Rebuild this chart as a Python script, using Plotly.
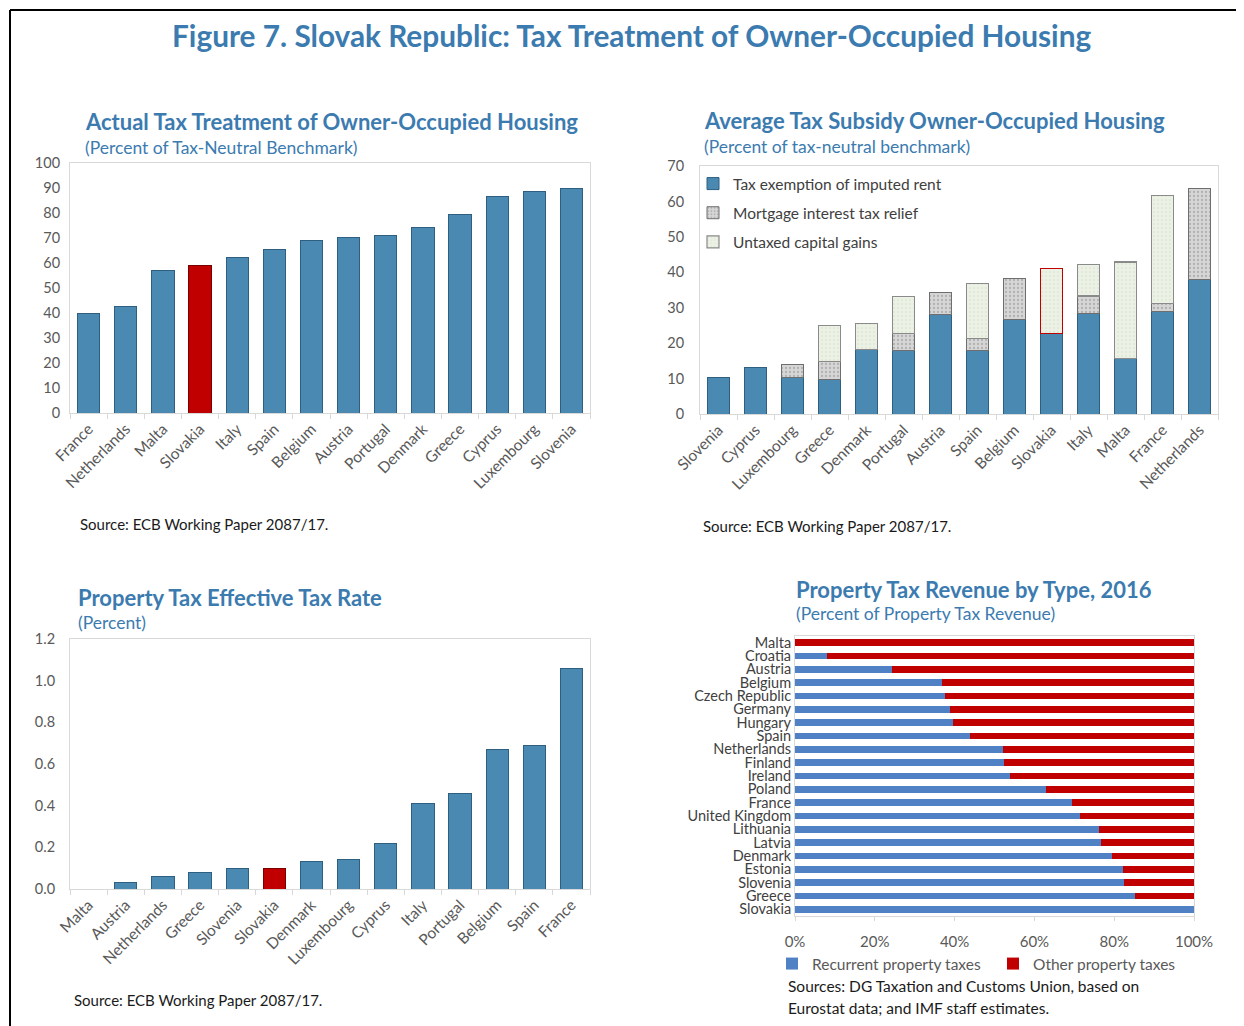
import plotly.graph_objects as go

# ---------------- DATA ----------------
c1_countries = ["France", "Netherlands", "Malta", "Slovakia", "Italy", "Spain", "Belgium",
                "Austria", "Portugal", "Denmark", "Greece", "Cyprus", "Luxembourg", "Slovenia"]
c1_values = [40.0, 42.5, 57.0, 59.0, 62.1, 65.4, 69.0, 70.1, 71.2, 74.3, 79.4, 86.8, 88.6, 89.7]

c2_countries = ["Slovenia", "Cyprus", "Luxembourg", "Greece", "Denmark", "Portugal", "Austria",
                "Spain", "Belgium", "Slovakia", "Italy", "Malta", "France", "Netherlands"]
c2_imputed_rent = [10.3, 13.1, 10.3, 9.6, 18.2, 18.0, 28.0, 18.0, 26.8, 22.8, 28.5, 15.6, 28.8, 38.1]
c2_mortgage = [None, None, 3.7, 5.3, None, 4.8, 6.4, 3.2, 11.4, None, 4.8, None, 2.5, 25.5]
c2_capital_gains = [None, None, None, 10.1, 7.4, 10.4, None, 15.6, None, 18.3, 8.9, 27.3, 30.3, None]

c3_countries = ["Malta", "Austria", "Netherlands", "Greece", "Slovenia", "Slovakia", "Denmark",
                "Luxembourg", "Cyprus", "Italy", "Portugal", "Belgium", "Spain", "France"]
c3_values = [0.0, 0.03, 0.06, 0.08, 0.10, 0.10, 0.13, 0.14, 0.22, 0.41, 0.46, 0.67, 0.69, 1.06]

c4_countries = ["Malta", "Croatia", "Austria", "Belgium", "Czech Republic", "Germany", "Hungary",
                "Spain", "Netherlands", "Finland", "Ireland", "Poland", "France", "United Kingdom",
                "Lithuania", "Latvia", "Denmark", "Estonia", "Slovenia", "Greece", "Slovakia"]
c4_recurrent = [0.0, 7.9, 24.3, 36.8, 37.7, 38.9, 39.6, 43.9, 52.1, 52.5, 54.0, 63.0, 69.4, 71.5,
                76.1, 76.7, 79.5, 82.2, 82.4, 85.1, 100.0]
c4_other = [100 - v for v in c4_recurrent]

# ---------------- STYLE ----------------
OFF = 8  # page body margin
W, H = 1244 - OFF, 1026 - OFF
FONT = "Lato, 'Open Sans', sans-serif"
BLUE = "#4a8ab2"
BLUE_EDGE = "#2e5f80"
RED = "#c00000"
TITLE_BLUE = "#3b7bb0"
TICK = "#595959"
BOX = "#d9d9d9"


def px(x):
    return (x - OFF) / W


def py(y):
    return 1 - (y - OFF) / H


fig = go.Figure()

# Chart 1
fig.add_trace(go.Bar(
    x=c1_countries, y=c1_values, xaxis="x", yaxis="y", showlegend=False,
    marker=dict(color=[RED if c == "Slovakia" else BLUE for c in c1_countries],
                line=dict(color=["#7a0000" if c == "Slovakia" else BLUE_EDGE for c in c1_countries], width=1)),
))

# Chart 2
fig.add_trace(go.Bar(
    x=c2_countries, y=c2_imputed_rent, xaxis="x2", yaxis="y2", name="Tax exemption of imputed rent",
    legend="legend", legendgroup="a",
    marker=dict(color=BLUE, line=dict(color=BLUE_EDGE, width=1)),
))
fig.add_trace(go.Bar(
    x=c2_countries, y=c2_mortgage, xaxis="x2", yaxis="y2", name="Mortgage interest tax relief",
    legend="legend", legendgroup="b",
    marker=dict(color="#cfcfcf", line=dict(color="#6e6e6e", width=1),
                pattern=dict(shape=".", fgcolor="#8c8c8c", bgcolor="#d6d6d6", size=4, solidity=0.25)),
))
fig.add_trace(go.Bar(
    x=c2_countries, y=c2_capital_gains, xaxis="x2", yaxis="y2", name="Untaxed capital gains",
    legend="legend", legendgroup="c",
    marker=dict(color="#e8efdf",
                line=dict(color=[RED if c == "Slovakia" else "#8a8a8a" for c in c2_countries], width=1.2),
                pattern=dict(shape=".", fgcolor="#d2dcc6", bgcolor="#ebf1e4", size=4, solidity=0.2)),
))

# Chart 3
fig.add_trace(go.Bar(
    x=c3_countries, y=c3_values, xaxis="x3", yaxis="y3", showlegend=False,
    marker=dict(color=[RED if c == "Slovakia" else BLUE for c in c3_countries],
                line=dict(color=["#7a0000" if c == "Slovakia" else BLUE_EDGE for c in c3_countries], width=1)),
))

# Chart 4
fig.add_trace(go.Bar(
    y=c4_countries, x=c4_recurrent, orientation="h", xaxis="x4", yaxis="y4",
    name="Recurrent property taxes", legend="legend2", width=0.5,
    marker=dict(color="#4f81c4", line=dict(width=0)),
))
fig.add_trace(go.Bar(
    y=c4_countries, x=c4_other, orientation="h", xaxis="x4", yaxis="y4",
    name="Other property taxes", legend="legend2", width=0.5,
    marker=dict(color=RED, line=dict(width=0)),
))

cat_axis = dict(showline=True, linecolor=BOX, mirror=True, ticks="outside", tickson="boundaries",
                ticklen=5, tickcolor=BOX, tickangle=-45, tickfont=dict(size=15.5, color=TICK, family=FONT),
                showgrid=False, zeroline=False, automargin=False)
val_axis = dict(showline=True, linecolor=BOX, mirror=True, ticks="", showgrid=False, zeroline=False,
                tickfont=dict(size=14.5, color=TICK, family=FONT), automargin=False)

fig.update_layout(
    width=W, height=H, margin=dict(l=0, r=0, t=0, b=0, autoexpand=False),
    paper_bgcolor="white", plot_bgcolor="white",
    barmode="stack", bargap=0.4,
    font=dict(family=FONT, color=TICK),
    xaxis=dict(cat_axis, domain=[px(70), px(590)], anchor="y"),
    yaxis=dict(val_axis, domain=[py(413), py(163)], anchor="x", range=[0, 100], dtick=10,
               ticklabelstandoff=6),
    xaxis2=dict(cat_axis, domain=[px(700), px(1218)], anchor="y2"),
    yaxis2=dict(val_axis, domain=[py(414), py(166)], anchor="x2", range=[0, 70], dtick=10,
                ticklabelstandoff=12),
    xaxis3=dict(cat_axis, domain=[px(70), px(590)], anchor="y3"),
    yaxis3=dict(val_axis, domain=[py(889), py(639)], anchor="x3", range=[0, 1.2], dtick=0.2,
                tickformat=".1f", ticklabelstandoff=11),
    xaxis4=dict(showline=True, linecolor=BOX, mirror=True, showgrid=False, zeroline=False, automargin=False,
                domain=[px(795), px(1194)], anchor="y4", range=[0, 100], dtick=20,
                ticksuffix="%", ticks="outside", ticklen=4, tickcolor=BOX, ticklabelstandoff=8,
                tickfont=dict(size=15, color=TICK, family=FONT)),
    yaxis4=dict(showline=True, linecolor=BOX, mirror=True, showgrid=False, zeroline=False, automargin=False,
                domain=[py(916), py(636)], anchor="x4", autorange="reversed",
                categoryorder="array", categoryarray=c4_countries, ticks="",
                tickmode="array", tickvals=c4_countries, ticktext=c4_countries,
                tickfont=dict(size=14.5, color="#404040", family=FONT)),
    legend=dict(x=px(693), y=py(167), xanchor="left", yanchor="top", orientation="v",
                traceorder="grouped", tracegroupgap=6, bgcolor="rgba(0,0,0,0)",
                font=dict(size=15.5, color="#404040", family=FONT), itemwidth=30),
    legend2=dict(x=px(772), y=py(964), xanchor="left", yanchor="middle", orientation="h",
                 traceorder="normal", bgcolor="rgba(0,0,0,0)", font=dict(size=15.5, color=TICK, family=FONT),
                 itemwidth=30, entrywidth=176),
)

annos = [
    ("<b>Figure 7. Slovak Republic: Tax Treatment of Owner-Occupied Housing</b>", 631, 35, 29.8, TITLE_BLUE, "center"),
    ("<b>Actual Tax Treatment of Owner-Occupied Housing</b>", 83, 122, 22, TITLE_BLUE, "left"),
    ("(Percent of Tax-Neutral Benchmark)", 83, 148, 17.5, TITLE_BLUE, "left"),
    ("<b>Average Tax Subsidy Owner-Occupied Housing</b>", 702, 121, 22, TITLE_BLUE, "left"),
    ("(Percent of tax-neutral benchmark)", 702, 146, 17.5, TITLE_BLUE, "left"),
    ("<b>Property Tax Effective Tax Rate</b>", 76, 597, 22, TITLE_BLUE, "left"),
    ("(Percent)", 76, 622, 17.5, TITLE_BLUE, "left"),
    ("<b>Property Tax Revenue by Type, 2016</b>", 794, 589, 22, TITLE_BLUE, "left"),
    ("(Percent of Property Tax Revenue)", 794, 613, 17.5, TITLE_BLUE, "left"),
    ("Source: ECB Working Paper 2087/17.", 78, 524, 15, "#1a1a1a", "left"),
    ("Source: ECB Working Paper 2087/17.", 701, 526, 15, "#1a1a1a", "left"),
    ("Source: ECB Working Paper 2087/17.", 72, 1000, 15, "#1a1a1a", "left"),
    ("Sources: DG Taxation and Customs Union, based on", 786, 986, 15.5, "#1a1a1a", "left"),
    ("Eurostat data; and IMF staff estimates.", 786, 1008, 15.5, "#1a1a1a", "left"),
]
for text, x, y, size, color, anchor in annos:
    fig.add_annotation(text=text, x=px(x), y=py(y), xref="paper", yref="paper",
                       xanchor=anchor, yanchor="middle", showarrow=False,
                       font=dict(size=size, color=color, family=FONT))

# frame
for x0, y0, x1, y1 in [(10, 10, 1240, 10), (10, 10, 10, 1030), (1240, 10, 1240, 1030)]:
    fig.add_shape(type="line", xref="paper", yref="paper", x0=px(x0), y0=py(y0), x1=px(x1), y1=py(y1),
                  line=dict(color="black", width=2))

fig.write_html("out.html")
